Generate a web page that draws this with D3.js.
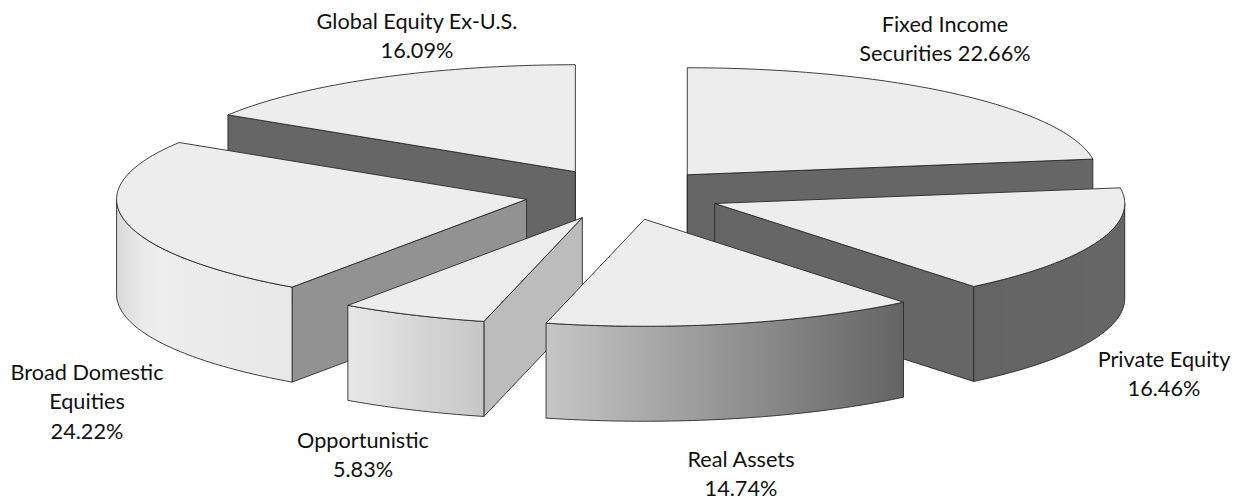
<!DOCTYPE html>
<html><head><meta charset="utf-8">
<script src="https://cdn.jsdelivr.net/npm/d3@7/dist/d3.min.js"></script>
<style>html,body{margin:0;padding:0;background:#fff}svg{display:block}text{font-family:Lato,"Open Sans",sans-serif;fill:#111}</style>
</head><body><div id="chart"></div>
<script>
const categories = ["Fixed Income Securities","Private Equity","Real Assets","Opportunistic","Broad Domestic Equities","Global Equity Ex-U.S."];
const shares = [22.66,16.46,14.74,5.83,24.22,16.09];
const labelLines = [["Fixed Income","Securities 22.66%"],["Private Equity","16.46%"],["Real Assets","14.74%"],["Opportunistic","5.83%"],["Broad Domestic","Equities","24.22%"],["Global Equity Ex-U.S.","16.09%"]];

const W=1242,H=504,DEPTH=95,EXPLODE=0.24,FS=21.7,LH=29.3;
const labelAnchors=[[945,32],[1164,367],[741,467],[363,448],[87,380],[417,29]];
const drawOrder=[5,0,4,1,3,2];
const deg=Math.PI/180;
const sx=d3.scaleLinear().domain([-1,1]).range([623-410,623+410]);
const sy=d3.scaleLinear().domain([-1,1]).range([194.2-107,194.2+107]);
// wall shading as a function of horizontal surface direction
const wallShade=d3.scaleLinear().domain([-1,-0.92,-0.57,-0.24,0.63,1]).range(["#d9d9d9","#eeeeee","#e8e8e8","#c6c6c6","#646464","#666666"]);
const faceShade=d3.scaleLinear().domain([82,141,194,215,302]).range(["#666666","#666666","#bcbcbc","#929292","#666666"]);

const svg=d3.select("#chart").append("svg").attr("width",W).attr("height",H);
const defs=svg.append("defs");
const pie=d3.pie().sort(null).value(d=>d)(shares);
const line=d3.line();
function pt(a,r,mid,dz=0){return [sx(r*Math.sin(a)+EXPLODE*Math.sin(mid)),sy(-r*Math.cos(a)-EXPLODE*Math.cos(mid))+dz];}
function arcPts(a0,a1,mid,dz=0){const n=Math.max(2,Math.ceil((a1-a0)/deg));return d3.range(n+1).map(i=>pt(a0+(a1-a0)*i/n,1,mid,dz));}
const g=svg.append("g").attr("stroke","#2a2a2a").attr("stroke-width",0.9).attr("stroke-linejoin","round");

drawOrder.forEach(i=>{
  const s=pie[i],a0=s.startAngle,a1=s.endAngle,mid=(a0+a1)/2;
  const apex=pt(0,0,mid);
  const apexB=pt(0,0,mid,DEPTH);
  [[a0,-Math.sin(a0)],[a1,Math.sin(a1)]].forEach(([a,vis])=>{
    if(vis>1e-6){
      const e=pt(a,1,mid),eB=pt(a,1,mid,DEPTH);
      g.append("path").attr("d",line([apex,e,eB,apexB])+"Z").attr("fill",d3.color(faceShade(a/deg)).formatHex());
    }
  });
  const w0=Math.max(a0,Math.PI/2),w1=Math.min(a1,1.5*Math.PI);
  if(w1>w0){
    const top=arcPts(w0,w1,mid),bot=arcPts(w0,w1,mid,DEPTH).reverse();
    const id="wall"+i;
    const x0=pt(w1,1,mid)[0],x1=pt(w0,1,mid)[0];
    const grad=defs.append("linearGradient").attr("id",id).attr("gradientUnits","userSpaceOnUse")
      .attr("x1",x0).attr("x2",x1).attr("y1",0).attr("y2",0);
    d3.range(13).forEach(k=>{
      const t=k/12,u=Math.sin(w1)+(Math.sin(w0)-Math.sin(w1))*t;
      grad.append("stop").attr("offset",t).attr("stop-color",wallShade(u));
    });
    g.append("path").attr("d",line(top.concat(bot))+"Z").attr("fill",`url(#${id})`);
  }
  g.append("path").attr("d",line([apex,...arcPts(a0,a1,mid)])+"Z").attr("fill","#ededed");
  if(a0<1e-6||a1>2*Math.PI-1e-6){
    g.append("path").attr("d",line([apex,apexB])).attr("fill","none");
  }
});

const lab=svg.append("g").attr("text-anchor","middle").attr("font-size",FS);
labelLines.forEach((lines,i)=>{
  const t=lab.append("text").attr("x",labelAnchors[i][0]).attr("y",labelAnchors[i][1]);
  lines.forEach((l,j)=>t.append("tspan").attr("x",labelAnchors[i][0]).attr("dy",j?LH:0).text(l));
});
</script></body></html>
